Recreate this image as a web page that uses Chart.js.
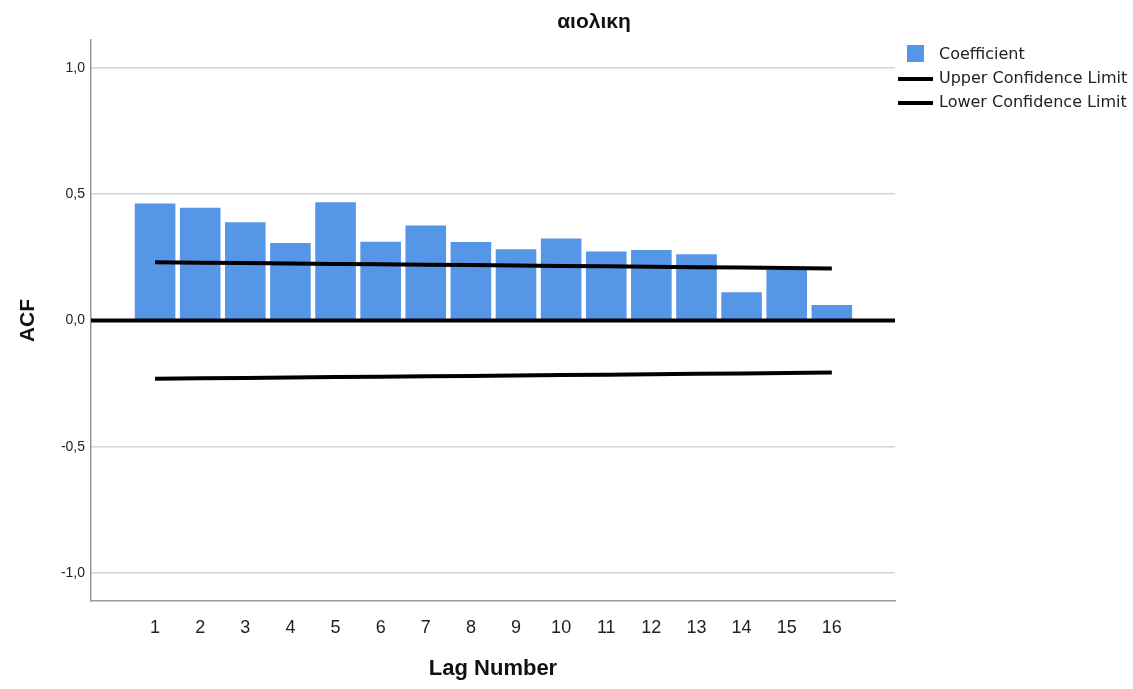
<!DOCTYPE html>
<html>
<head>
<meta charset="utf-8">
<script src="https://cdn.jsdelivr.net/npm/chart.js@4/dist/chart.umd.min.js"></script>
<style>
  body { margin: 0; background: #fff; }
  #wrap { position: relative; width: 1133px; height: 689px; }
  #title { position: absolute; left: 494px; width: 200px; top: 9px; text-align: center;
           font: bold 21px "Liberation Sans", Arial, sans-serif; color: #111; }
  #legend { position: absolute; left: 898px; top: 44px; font: 16px "DejaVu Sans", sans-serif; color: #222; }
  .item { position: relative; height: 24px; line-height: 20px; padding-left: 41px; white-space: nowrap; }
  .sq { position: absolute; left: 9px; top: 1px; width: 17px; height: 17px; background: #5597e6; }
  .ln { position: absolute; left: 0; top: 9px; width: 35px; height: 4px; background: #000; }
</style>
</head>
<body>
<div id="wrap">
  <canvas id="acf-chart" width="1133" height="689"></canvas>
  <div id="title">αιολικη</div>
  <div id="legend"></div>
</div>
<script>
const lags = [1, 2, 3, 4, 5, 6, 7, 8, 9, 10, 11, 12, 13, 14, 15, 16];
const coefficient = [0.463, 0.446, 0.389, 0.307, 0.468, 0.312, 0.376, 0.311, 0.282, 0.324, 0.273, 0.279, 0.262, 0.112, 0.201, 0.061];
const upperLimit = [0.231, 0.229, 0.228, 0.226, 0.224, 0.223, 0.221, 0.220, 0.218, 0.216, 0.215, 0.213, 0.211, 0.210, 0.208, 0.206];
const lowerLimit = [-0.231, -0.229, -0.228, -0.226, -0.224, -0.223, -0.221, -0.220, -0.218, -0.216, -0.215, -0.213, -0.211, -0.210, -0.208, -0.206];
const yTicks = [-1, -0.5, 0, 0.5, 1];
const yTickLabels = ['-1,0', '-0,5', '0,0', '0,5', '1,0'];
const seriesNames = ['Coefficient', 'Upper Confidence Limit', 'Lower Confidence Limit'];

const toPoints = arr => arr.map((v, i) => ({ x: lags[i], y: v }));

// thick reference line at zero, drawn over the bars
const zeroLine = {
  id: 'zeroLine',
  afterDatasetsDraw(chart) {
    const { ctx, chartArea, scales } = chart;
    const y = scales.y.getPixelForValue(0);
    ctx.save();
    ctx.strokeStyle = '#000';
    ctx.lineWidth = 4;
    ctx.beginPath();
    ctx.moveTo(chartArea.left, y);
    ctx.lineTo(chartArea.right, y);
    ctx.stroke();
    ctx.restore();
  }
};

const legendEl = document.getElementById('legend');
seriesNames.forEach((name, i) => {
  const div = document.createElement('div');
  div.className = 'item';
  div.innerHTML = '<span class="' + (i === 0 ? 'sq' : 'ln') + '"></span>' + name;
  legendEl.appendChild(div);
});

new Chart(document.getElementById('acf-chart').getContext('2d'), {
  data: {
    datasets: [
      {
        type: 'line',
        label: seriesNames[1],
        data: toPoints(upperLimit),
        borderColor: '#000',
        borderWidth: 4,
        pointRadius: 0,
        tension: 0,
        order: 1
      },
      {
        type: 'line',
        label: seriesNames[2],
        data: toPoints(lowerLimit),
        borderColor: '#000',
        borderWidth: 4,
        pointRadius: 0,
        tension: 0,
        order: 1
      },
      {
        type: 'bar',
        label: seriesNames[0],
        data: toPoints(coefficient),
        backgroundColor: '#5597e6',
        categoryPercentage: 1,
        barPercentage: 0.9,
        order: 3
      }
    ]
  },
  options: {
    responsive: false,
    animation: false,
    layout: { padding: { top: 40, right: 238, left: 0, bottom: 0 } },
    plugins: {
      legend: { display: false },
      tooltip: { enabled: false }
    },
    scales: {
      x: {
        type: 'linear',
        offset: false,
        min: -0.42,
        max: 17.4,
        afterBuildTicks: s => { s.ticks = lags.map(v => ({ value: v })); },
        afterFit: s => { s.height = 88; },
        grid: { display: false, drawTicks: false },
        border: { display: true, color: '#999', width: 1.5 },
        ticks: {
          autoSkip: false,
          maxRotation: 0,
          padding: 16,
          color: '#222',
          font: { family: 'Liberation Sans, Arial, sans-serif', size: 18 },
          callback: v => String(v)
        },
        title: {
          display: true,
          text: 'Lag Number',
          color: '#111',
          font: { family: 'Liberation Sans, Arial, sans-serif', size: 22, weight: 'bold' },
          padding: { top: 0, bottom: 7 }
        }
      },
      y: {
        min: -1.11,
        max: 1.11,
        afterBuildTicks: s => { s.ticks = yTicks.map(v => ({ value: v })); },
        afterFit: s => { s.width = 91; },
        grid: {
          drawTicks: false,
          color: ctx => (ctx.tick && ctx.tick.value === 0) ? 'rgba(0,0,0,0)' : '#d4d4d4',
          lineWidth: 1.5
        },
        border: { display: true, color: '#999', width: 1.5 },
        ticks: {
          padding: 6,
          color: '#222',
          font: { family: 'Liberation Sans, Arial, sans-serif', size: 14 },
          callback: (v, i) => yTickLabels[i]
        },
        title: {
          display: true,
          text: 'ACF',
          color: '#111',
          font: { family: 'Liberation Sans, Arial, sans-serif', size: 21, weight: 'bold' },
          padding: { top: 16, bottom: 0 }
        }
      }
    }
  },
  plugins: [zeroLine]
});
</script>
</body>
</html>
